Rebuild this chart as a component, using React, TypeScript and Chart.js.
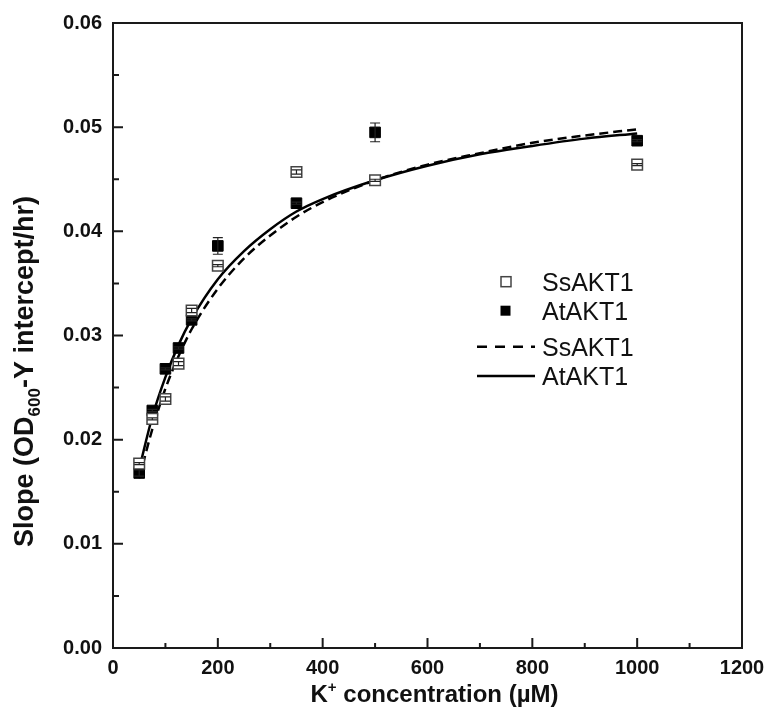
import React, { useEffect, useRef } from 'react';
import { Chart, registerables } from 'chart.js';

Chart.register(...registerables);

// ---- data ----
const xConc = [50, 75, 100, 125, 150, 200, 350, 500, 1000];
const ssSlope = [0.0177, 0.022, 0.0239, 0.0273, 0.0324, 0.0367, 0.0457, 0.0449, 0.0464];
const ssErr = [0.0001, 0.0001, 0.0002, 0.0002, 0.0002, 0.0001, 0.0002, 0.0001, 0.0001];
const atSlope = [0.0168, 0.0228, 0.0268, 0.0288, 0.0315, 0.0386, 0.0427, 0.0495, 0.0487];
const atErr = [0.0003, 0.0001, 0.0001, 0.0001, 0.0001, 0.0008, 0.0001, 0.0009, 0.0001];

const fitX = [50, 75, 100, 125, 150, 200, 250, 300, 350, 400, 500, 600, 700, 800, 900, 1000];
const ssFit = [0.0163, 0.021, 0.0249, 0.028, 0.0306, 0.0345, 0.0374, 0.0396, 0.0414, 0.0428, 0.0449, 0.0464, 0.0475, 0.0485, 0.0492, 0.0498];
const atFit = [0.0172, 0.0222, 0.026, 0.0291, 0.0316, 0.0354, 0.0381, 0.0402, 0.0419, 0.0431, 0.0449, 0.0463, 0.0474, 0.0482, 0.0489, 0.0494];

const xMin = 0, xMax = 1200, xStep = 200, xMinor = 100;
const yMin = 0, yMax = 0.06, yStep = 0.01, yMinor = 0.005;

const legendLabels = ['SsAKT1', 'AtAKT1', 'SsAKT1', 'AtAKT1'];
const yTitleParts = ['Slope (OD', '600', '-Y intercept/hr)'];
const xTitleParts = ['K', '+', ' concentration (\u00b5M)'];

const FONT = '"Liberation Sans", Arial, Helvetica, sans-serif';
const INK = '#111111';

type Seg = { t: string; size: number; dy: number; bold: boolean };

function drawSegs(ctx: CanvasRenderingContext2D, segs: Seg[], cx: number, baseY: number) {
  let total = 0;
  const widths = segs.map((s) => {
    ctx.font = `${s.bold ? 'bold ' : ''}${s.size}px ${FONT}`;
    const w = ctx.measureText(s.t).width;
    total += w;
    return w;
  });
  let x = cx - total / 2;
  ctx.textAlign = 'left';
  ctx.textBaseline = 'alphabetic';
  segs.forEach((s, i) => {
    ctx.font = `${s.bold ? 'bold ' : ''}${s.size}px ${FONT}`;
    ctx.fillText(s.t, x, baseY + s.dy);
    x += widths[i];
  });
}

const decorPlugin = {
  id: 'decor',
  afterDatasetsDraw(chart: any) {
    const { ctx, chartArea: a, scales } = chart;
    const xs = scales.x;
    const ys = scales.y;
    ctx.save();

    // error bars
    ctx.strokeStyle = '#222';
    ctx.lineWidth = 1.2;
    const drawErr = (vals: number[], errs: number[]) => {
      vals.forEach((v, i) => {
        const px = xs.getPixelForValue(xConc[i]);
        const top = ys.getPixelForValue(v + errs[i]);
        const bot = ys.getPixelForValue(v - errs[i]);
        ctx.beginPath();
        ctx.moveTo(px, top);
        ctx.lineTo(px, bot);
        ctx.moveTo(px - 5, top);
        ctx.lineTo(px + 5, top);
        ctx.moveTo(px - 5, bot);
        ctx.lineTo(px + 5, bot);
        ctx.stroke();
      });
    };
    drawErr(ssSlope, ssErr);
    drawErr(atSlope, atErr);

    // frame
    ctx.strokeStyle = '#1a1a1a';
    ctx.lineWidth = 2;
    ctx.strokeRect(a.left, a.top, a.right - a.left, a.bottom - a.top);

    // inward ticks
    ctx.beginPath();
    for (let v = xMin; v <= xMax + 1e-9; v += xMinor) {
      const px = xs.getPixelForValue(v);
      const major = Math.abs(v / xStep - Math.round(v / xStep)) < 1e-6;
      ctx.moveTo(px, a.bottom);
      ctx.lineTo(px, a.bottom - (major ? 10 : 5));
    }
    const nY = Math.round((yMax - yMin) / yMinor);
    for (let k = 0; k <= nY; k++) {
      const v = yMin + k * yMinor;
      const py = ys.getPixelForValue(v);
      const major = k % Math.round(yStep / yMinor) === 0;
      ctx.moveTo(a.left, py);
      ctx.lineTo(a.left + (major ? 10 : 6), py);
    }
    ctx.stroke();

    // legend
    const lx = 506;
    ctx.fillStyle = '#fff';
    ctx.strokeStyle = '#444';
    ctx.lineWidth = 1.5;
    ctx.fillRect(lx - 5, 281.7 - 5, 10, 10);
    ctx.strokeRect(lx - 5, 281.7 - 5, 10, 10);
    ctx.fillStyle = '#000';
    ctx.fillRect(lx - 5.5, 310.7 - 5, 10, 10);
    ctx.strokeStyle = '#000';
    ctx.lineWidth = 2.5;
    ctx.setLineDash([10, 8]);
    ctx.beginPath();
    ctx.moveTo(477, 346.7);
    ctx.lineTo(535, 346.7);
    ctx.stroke();
    ctx.setLineDash([]);
    ctx.beginPath();
    ctx.moveTo(477, 376);
    ctx.lineTo(535, 376);
    ctx.stroke();
    ctx.fillStyle = INK;
    ctx.font = `25px ${FONT}`;
    ctx.textAlign = 'left';
    ctx.textBaseline = 'alphabetic';
    const baselines = [290.7, 320, 356, 385];
    legendLabels.forEach((t, i) => ctx.fillText(t, 542, baselines[i]));

    // x title
    ctx.fillStyle = INK;
    drawSegs(
      ctx,
      [
        { t: xTitleParts[0], size: 24, dy: 0, bold: true },
        { t: xTitleParts[1], size: 15, dy: -10, bold: true },
        { t: xTitleParts[2], size: 24, dy: 0, bold: true },
      ],
      434.5,
      701.7
    );

    // y title
    ctx.save();
    ctx.translate(33, 371.5);
    ctx.rotate(-Math.PI / 2);
    drawSegs(
      ctx,
      [
        { t: yTitleParts[0], size: 27, dy: 0, bold: true },
        { t: yTitleParts[1], size: 17, dy: 7, bold: true },
        { t: yTitleParts[2], size: 27, dy: 0, bold: true },
      ],
      0,
      0
    );
    ctx.restore();

    ctx.restore();
  },
};

export default function App() {
  const ref = useRef<HTMLCanvasElement>(null);
  useEffect(() => {
    if (!ref.current) return;
    const tickFont = { family: FONT, size: 20, weight: 'bold' as const };
    const chart = new Chart(ref.current, {
      type: 'scatter',
      data: {
        datasets: [
          {
            label: 'SsAKT1',
            data: xConc.map((x, i) => ({ x, y: ssSlope[i] })),
            pointStyle: 'rect',
            pointRadius: 7.5,
            backgroundColor: '#ffffff',
            borderColor: '#444444',
            borderWidth: 1.5,
            showLine: false,
            order: 0,
          },
          {
            label: 'AtAKT1',
            data: xConc.map((x, i) => ({ x, y: atSlope[i] })),
            pointStyle: 'rect',
            pointRadius: 7.5,
            backgroundColor: '#000000',
            borderColor: '#000000',
            borderWidth: 1,
            showLine: false,
            order: 0,
          },
          {
            label: 'SsAKT1 fit',
            data: fitX.map((x, i) => ({ x, y: ssFit[i] })),
            showLine: true,
            pointRadius: 0,
            borderColor: '#000000',
            borderWidth: 2.5,
            borderDash: [9, 5],
            cubicInterpolationMode: 'monotone',
            fill: false,
            order: 1,
          },
          {
            label: 'AtAKT1 fit',
            data: fitX.map((x, i) => ({ x, y: atFit[i] })),
            showLine: true,
            pointRadius: 0,
            borderColor: '#000000',
            borderWidth: 2.5,
            cubicInterpolationMode: 'monotone',
            fill: false,
            order: 1,
          },
        ],
      },
      options: {
        responsive: false,
        animation: false,
        layout: { padding: { top: 19, right: 34, left: 0, bottom: 0 } },
        plugins: { legend: { display: false }, tooltip: { enabled: false } },
        scales: {
          x: {
            type: 'linear',
            min: xMin,
            max: xMax,
            ticks: {
              stepSize: xStep,
              font: tickFont,
              color: INK,
              padding: 8,
              maxRotation: 0,
              callback: (v: any) => String(Math.round(Number(v))),
            },
            grid: { display: false, drawTicks: false },
            border: { display: false },
            afterFit: (s: any) => {
              s.height = 69;
            },
          },
          y: {
            type: 'linear',
            min: yMin,
            max: yMax,
            ticks: {
              stepSize: yStep,
              font: tickFont,
              color: INK,
              padding: 11,
              callback: (v: any) => Number(v).toFixed(2),
            },
            grid: { display: false, drawTicks: false },
            border: { display: false },
            afterFit: (s: any) => {
              s.width = 113;
            },
          },
        },
      },
      plugins: [decorPlugin],
    });
    return () => chart.destroy();
  }, []);
  return (
    <div style={{ position: 'absolute', left: 0, top: 0, width: 776, height: 717, background: '#fff' }}>
      <canvas ref={ref} width={776} height={717} style={{ display: 'block' }} />
    </div>
  );
}
